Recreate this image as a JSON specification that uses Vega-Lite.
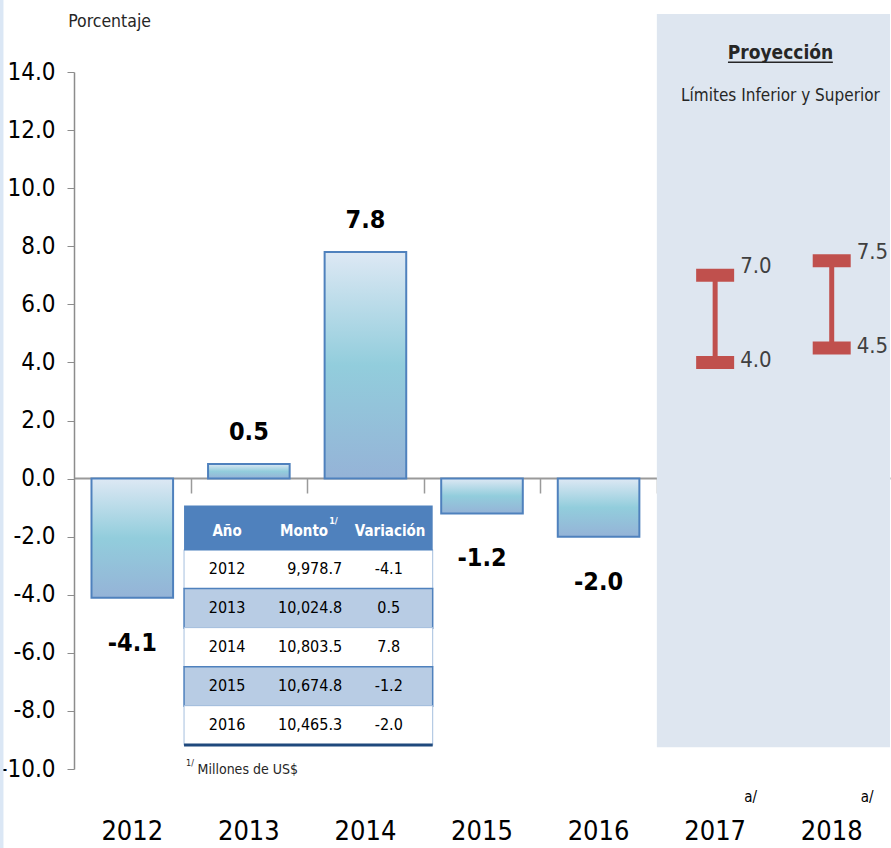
{
  "$schema": "https://vega.github.io/schema/vega-lite/v6.json",
  "width": 816,
  "height": 697,
  "autosize": {"type": "none"},
  "padding": {"left": 74, "top": 72, "right": 1, "bottom": 79},
  "background": "white",
  "config": {
    "view": {"stroke": null},
    "font": "DejaVu Sans Condensed, DejaVu Sans, sans-serif",
    "locale": {"number": {"decimal": ".", "thousands": ",", "grouping": [3], "currency": ["$", ""], "minus": "-"}}
  },
  "datasets": {
    "barras": [
      {"year": "2012", "value": -4.1},
      {"year": "2013", "value": 0.5},
      {"year": "2014", "value": 7.8},
      {"year": "2015", "value": -1.2},
      {"year": "2016", "value": -2.0},
      {"year": "2017", "low": 4.0, "high": 7.0},
      {"year": "2018", "low": 4.5, "high": 7.5}
    ],
    "tabla": [
      {"anio": 2012, "monto": 9978.7, "variacion": -4.1},
      {"anio": 2013, "monto": 10024.8, "variacion": 0.5},
      {"anio": 2014, "monto": 10803.5, "variacion": 7.8},
      {"anio": 2015, "monto": 10674.8, "variacion": -1.2},
      {"anio": 2016, "monto": 10465.3, "variacion": -2.0}
    ]
  },
  "layer": [
    {
      "data": {"values": [{}]},
      "layer": [
        {
          "mark": {"type": "rect", "color": "#dbe7f5"},
          "encoding": {
            "x": {
              "datum": -0.635,
              "scale": {"domain": [0, 7], "nice": false, "zero": false},
              "axis": {"orient": "bottom", "offset": -291, "values": [1, 2, 3, 4, 5, 6], "labels": false, "tickSize": 15, "tickColor": "#9a9a9a", "tickWidth": 1.5, "domainColor": "#9a9a9a", "domainWidth": 2, "grid": false, "title": null}
            },
            "x2": {"datum": -0.605},
            "y": {
              "datum": 17,
              "scale": {"domain": [-10, 14], "nice": false, "zero": false},
              "axis": {"orient": "left", "values": [-10, -8, -6, -4, -2, 0, 2, 4, 6, 8, 10, 12, 14], "format": ".1f", "labelFontSize": 24, "labelColor": "#000000", "tickColor": "#8c8c8c", "tickSize": 7, "domainColor": "#8c8c8c", "domainWidth": 1.5, "grid": false, "title": null, "labelPadding": 12}
            },
            "y2": {"datum": -13}
          }
        },
        {
          "mark": {"type": "rect", "color": "#dee6f0"},
          "encoding": {
            "x": {"datum": 5, "axis": null},
            "x2": {"datum": 7},
            "y": {"datum": 16, "axis": null},
            "y2": {"datum": -9.25}
          }
        },
        {
          "mark": {"type": "text", "text": "Porcentaje", "align": "left", "baseline": "middle", "fontSize": 17.5, "color": "#262626"},
          "encoding": {"x": {"datum": -0.05, "axis": null}, "y": {"datum": 15.72, "axis": null}}
        },
        {
          "mark": {"type": "text", "text": "Proyección", "align": "center", "baseline": "middle", "fontSize": 19, "fontWeight": "bold", "color": "#262626"},
          "encoding": {"x": {"datum": 6.06, "axis": null}, "y": {"datum": 14.67, "axis": null}}
        },
        {
          "mark": {"type": "rule", "color": "#262626", "strokeWidth": 1.5},
          "encoding": {"x": {"datum": 5.61, "axis": null}, "x2": {"datum": 6.51}, "y": {"datum": 14.34, "axis": null}}
        },
        {
          "mark": {"type": "text", "text": "Límites Inferior y Superior", "align": "center", "baseline": "middle", "fontSize": 17, "color": "#262626"},
          "encoding": {"x": {"datum": 6.06, "axis": null}, "y": {"datum": 13.19, "axis": null}}
        },
        {
          "mark": {"type": "text", "text": "1/", "align": "left", "baseline": "middle", "fontSize": 9, "color": "#262626"},
          "encoding": {"x": {"datum": 0.961, "axis": null}, "y": {"datum": -9.81, "axis": null}}
        },
        {
          "mark": {"type": "text", "text": "Millones de US$", "align": "left", "baseline": "middle", "fontSize": 14, "color": "#262626"},
          "encoding": {"x": {"datum": 1.06, "axis": null}, "y": {"datum": -10.05, "axis": null}}
        }
      ],
      "resolve": {"axis": {"x": "independent", "y": "independent"}}
    },
    {
      "data": {"name": "barras"},
      "encoding": {
        "x": {"field": "year", "type": "ordinal", "scale": {"domain": ["2012", "2013", "2014", "2015", "2016", "2017", "2018"], "paddingInner": 0.3, "paddingOuter": 0.15}, "axis": null}
      },
      "layer": [
        {
          "transform": [{"filter": "isValid(datum.value)"}],
          "mark": {
            "type": "bar",
            "stroke": "#4f81bd",
            "strokeWidth": 2,
            "fill": {"gradient": "linear", "x1": 0, "y1": 0, "x2": 0, "y2": 1, "stops": [
              {"offset": 0, "color": "#dde8f4"},
              {"offset": 0.5, "color": "#92cddc"},
              {"offset": 1, "color": "#95b3d7"}
            ]}
          },
          "encoding": {
            "x": {
              "field": "year", "type": "ordinal",
              "scale": {"domain": ["2012", "2013", "2014", "2015", "2016", "2017", "2018"], "paddingInner": 0.3, "paddingOuter": 0.15},
              "axis": {"orient": "bottom", "domain": false, "ticks": false, "labelFontSize": 27, "labelColor": "#000000", "labelPadding": 49, "labelAngle": 0, "title": null}
            },
            "y": {"field": "value", "type": "quantitative", "scale": {"domain": [-10, 14], "nice": false, "zero": false}, "axis": null}
          }
        },
        {
          "transform": [{"filter": "isValid(datum.value) && datum.value >= 0"}],
          "mark": {"type": "text", "fontSize": 25, "fontWeight": "bold", "color": "#000000", "baseline": "alphabetic", "dy": -24},
          "encoding": {
            "y": {"field": "value", "type": "quantitative", "axis": null},
            "text": {"field": "value", "type": "quantitative", "format": ".1f"}
          }
        },
        {
          "transform": [{"filter": "isValid(datum.value) && datum.value < 0"}],
          "mark": {"type": "text", "fontSize": 25, "fontWeight": "bold", "color": "#000000", "baseline": "alphabetic", "dy": 53},
          "encoding": {
            "y": {"field": "value", "type": "quantitative", "axis": null},
            "text": {"field": "value", "type": "quantitative", "format": ".1f"}
          }
        },
        {
          "transform": [{"filter": "isValid(datum.low)"}],
          "mark": {"type": "rule", "color": "#c0504d", "strokeWidth": 5},
          "encoding": {
            "y": {"field": "low", "type": "quantitative", "axis": null},
            "y2": {"field": "high"}
          }
        },
        {
          "transform": [{"filter": "isValid(datum.low)"}],
          "mark": {"type": "tick", "color": "#c0504d", "thickness": 13, "size": 38, "opacity": 1},
          "encoding": {"y": {"field": "low", "type": "quantitative", "axis": null}}
        },
        {
          "transform": [{"filter": "isValid(datum.low)"}],
          "mark": {"type": "tick", "color": "#c0504d", "thickness": 13, "size": 38, "opacity": 1},
          "encoding": {"y": {"field": "high", "type": "quantitative", "axis": null}}
        },
        {
          "transform": [{"filter": "isValid(datum.low)"}],
          "mark": {"type": "text", "fontSize": 22, "color": "#404040", "align": "left", "baseline": "middle", "dx": 25, "dy": -9},
          "encoding": {
            "y": {"field": "high", "type": "quantitative", "axis": null},
            "text": {"field": "high", "type": "quantitative", "format": ".1f"}
          }
        },
        {
          "transform": [{"filter": "isValid(datum.low)"}],
          "mark": {"type": "text", "fontSize": 22, "color": "#404040", "align": "left", "baseline": "middle", "dx": 25, "dy": -2},
          "encoding": {
            "y": {"field": "low", "type": "quantitative", "axis": null},
            "text": {"field": "low", "type": "quantitative", "format": ".1f"}
          }
        },
        {
          "transform": [{"filter": "isValid(datum.low)"}],
          "mark": {"type": "text", "text": "a/", "fontSize": 15, "color": "#000000", "align": "left", "baseline": "middle", "dx": 29},
          "encoding": {"y": {"datum": -10.98, "axis": null}}
        }
      ],
      "resolve": {"axis": {"x": "independent", "y": "independent"}}
    },
    {
      "data": {"name": "tabla"},
      "layer": [
        {
          "mark": {"type": "bar", "orient": "horizontal", "size": 39.6},
          "encoding": {
            "x": {"datum": 0.944, "scale": {"domain": [0, 7], "nice": false, "zero": false}, "axis": null},
            "x2": {"datum": 3.077},
            "y": {"field": "anio", "type": "quantitative", "scale": {"domain": [1999.386, 2016.987], "reverse": true, "nice": false, "zero": false}, "axis": null},
            "fill": {"condition": {"test": "datum.anio === 2013 || datum.anio === 2015", "value": "#b8cce4"}, "value": "#ffffff"},
            "stroke": {"condition": {"test": "datum.anio === 2013 || datum.anio === 2015", "value": "#4f81bd"}, "value": "#a6bfde"},
            "strokeWidth": {"condition": {"test": "datum.anio === 2013 || datum.anio === 2015", "value": 1.5}, "value": 1}
          }
        },
        {
          "data": {"values": [{}]},
          "mark": {"type": "bar", "orient": "horizontal", "size": 45, "color": "#4f81bd"},
          "encoding": {
            "x": {"datum": 0.944, "axis": null},
            "x2": {"datum": 3.077},
            "y": {"datum": 2010.94, "axis": null}
          }
        },
        {
          "data": {"values": [{}]},
          "mark": {"type": "rule", "color": "#1f497d", "strokeWidth": 3},
          "encoding": {
            "x": {"datum": 0.944, "axis": null},
            "x2": {"datum": 3.077},
            "y": {"datum": 2016.5, "axis": null}
          }
        },
        {
          "mark": {"type": "text", "fontSize": 16, "color": "#000000", "align": "center", "baseline": "middle"},
          "encoding": {
            "x": {"datum": 1.313, "axis": null},
            "y": {"field": "anio", "type": "quantitative", "axis": null},
            "text": {"field": "anio", "type": "quantitative", "format": "d"}
          }
        },
        {
          "mark": {"type": "text", "fontSize": 16, "color": "#000000", "align": "right", "baseline": "middle"},
          "encoding": {
            "x": {"datum": 2.3, "axis": null},
            "y": {"field": "anio", "type": "quantitative", "axis": null},
            "text": {"field": "monto", "type": "quantitative", "format": ",.1f"}
          }
        },
        {
          "mark": {"type": "text", "fontSize": 16, "color": "#000000", "align": "center", "baseline": "middle"},
          "encoding": {
            "x": {"datum": 2.7, "axis": null},
            "y": {"field": "anio", "type": "quantitative", "axis": null},
            "text": {"field": "variacion", "type": "quantitative", "format": ".1f"}
          }
        },
        {
          "data": {"values": [{}]},
          "mark": {"type": "text", "text": "Año", "fontSize": 15, "fontWeight": "bold", "color": "#ffffff", "align": "center", "baseline": "middle", "dy": 3},
          "encoding": {"x": {"datum": 1.313, "axis": null}, "y": {"datum": 2010.94, "axis": null}}
        },
        {
          "data": {"values": [{}]},
          "mark": {"type": "text", "text": "Monto", "fontSize": 15, "fontWeight": "bold", "color": "#ffffff", "align": "center", "baseline": "middle", "dy": 3},
          "encoding": {"x": {"datum": 1.974, "axis": null}, "y": {"datum": 2010.94, "axis": null}}
        },
        {
          "data": {"values": [{}]},
          "mark": {"type": "text", "text": "1/", "fontSize": 9, "fontWeight": "bold", "color": "#ffffff", "align": "left", "baseline": "middle", "dy": -7},
          "encoding": {"x": {"datum": 2.189, "axis": null}, "y": {"datum": 2010.94, "axis": null}}
        },
        {
          "data": {"values": [{}]},
          "mark": {"type": "text", "text": "Variación", "fontSize": 15, "fontWeight": "bold", "color": "#ffffff", "align": "center", "baseline": "middle", "dy": 3},
          "encoding": {"x": {"datum": 2.712, "axis": null}, "y": {"datum": 2010.94, "axis": null}}
        }
      ],
      "resolve": {"axis": {"x": "independent", "y": "independent"}}
    }
  ],
  "resolve": {"scale": {"x": "independent", "y": "independent"}, "axis": {"x": "independent", "y": "independent"}}
}
